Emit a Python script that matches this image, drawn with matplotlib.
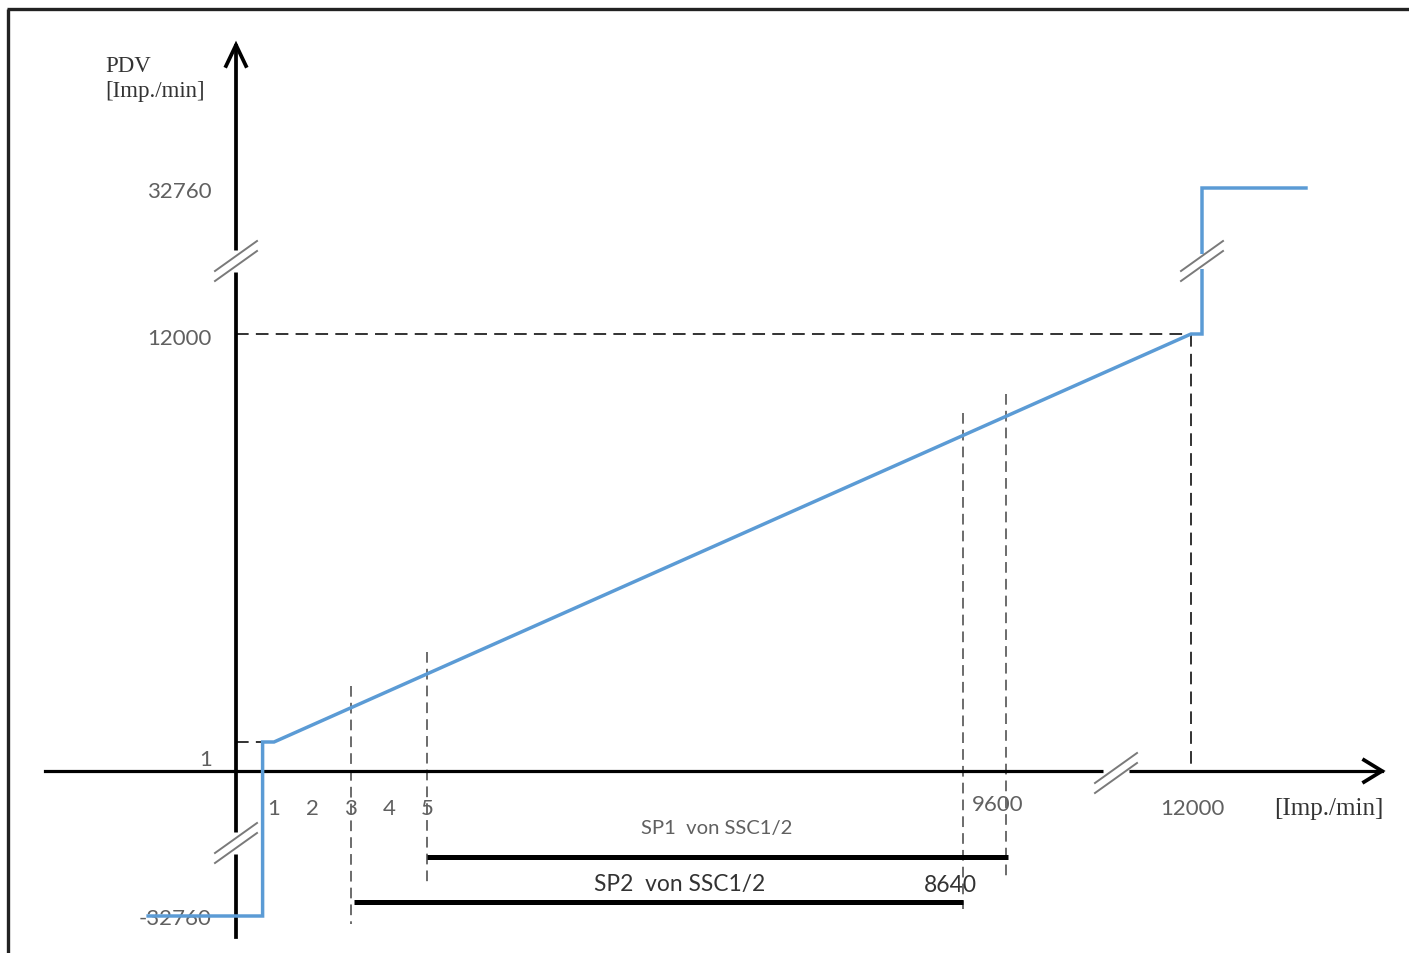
import numpy as np
import matplotlib.pyplot as plt

# ---- schematic data (values in Imp./min) ----
x_ticks = [1, 2, 3, 4, 5]
x_tick_labels = ['1', '2', '3', '4', '5']
y_ticks = [32760, 12000, 1, -32760]
y_tick_labels = ['32760', '12000', '1', '-32760']
x_marks = [9600, 12000]
x_mark_labels = ['9600', '12000']

# PDV characteristic (step below 1, ramp 1..12000, step to 32760 above)
curve_x = [-2.3, 0.7, 0.7, 1, 12000, 12144, 12144, 13505]
curve_y = [-32760, -32760, 1, 1, 12000, 12000, 32760, 32760]

sp1_range = [5, 9600]
sp2_range = [3, 8640]
guide_x = [3, 5, 8640, 9600]

# ---- schematic (broken) axis mapping, value -> pixel ----
X_VALS = [-5, 0, 1, 5, 8640, 9600, 12000, 14500]
X_PIX = [45, 236, 274, 427, 963, 1006, 1191, 1382]
Y_VALS = [-32760, 0, 1, 12000, 32760]
Y_PIX = [917, 772, 743, 335, 189]


def X(v):
    return np.interp(v, X_VALS, X_PIX)


def Y(v):
    return np.interp(v, Y_VALS, Y_PIX)


BLUE = '#5b9bd5'
GRAY = '#606060'
serif = 'Liberation Serif'
sans = 'Lato'

fig = plt.figure(figsize=(14.09, 9.54), dpi=100)
ax = fig.add_axes([0, 0, 1, 1])
ax.set_xlim(0, 1409)
ax.set_ylim(954, 0)
ax.axis('off')

# frame (top and left edges of the scanned box)
ax.plot([7, 1409], [10, 10], color='#222222', lw=2.4, solid_capstyle='butt')
ax.plot([8, 8], [10, 954], color='#222222', lw=2.4, solid_capstyle='butt')

x0, y0 = X(0), Y(0)

# axes
ax.plot([X(-5), X(14500)], [y0, y0], color='black', lw=2.3, zorder=3)
ax.plot([x0, x0], [938, 47], color='black', lw=2.7, zorder=3)
# arrow heads
ax.plot([X(14500) - 18, X(14500), X(14500) - 18], [y0 - 11, y0, y0 + 11],
        color='black', lw=2.7, zorder=3, solid_joinstyle='miter')
ax.plot([x0 - 10, x0, x0 + 10], [67, 46, 67],
        color='black', lw=2.7, zorder=3, solid_joinstyle='miter')


def axis_break(cx, cy, vertical):
    if vertical:
        ax.plot([cx, cx], [cy - 11, cy + 11], color='white', lw=8, zorder=4,
                solid_capstyle='butt')
    else:
        ax.plot([cx - 13, cx + 13], [cy, cy], color='white', lw=8, zorder=4,
                solid_capstyle='butt')
    for off in (-5, 5):
        ax.plot([cx - 21, cx + 21], [cy + 15 + off, cy - 15 + off],
                color='#7a7a7a', lw=1.4, zorder=5)


axis_break(x0, 262, True)
axis_break(x0, 844, True)
axis_break(1116, y0 + 2, False)

# dashed helper lines
dash = dict(color='#222222', lw=1.3, dashes=(7, 4), zorder=2)
ax.plot([x0, X(12000)], [Y(12000), Y(12000)], **dash)
ax.plot([x0, X(0.7)], [Y(1), Y(1)], **dash)
ax.plot([X(12000), X(12000)], [Y(12000), y0], **dash)

ramp_px = [X(1), X(12000)]
ramp_py = [Y(1), Y(12000)]
guide_bottom = [925, 885, 910, 880]
for gx, gb in zip(guide_x, guide_bottom):
    px = X(gx)
    top = np.interp(px, ramp_px, ramp_py) - 22
    ax.plot([px, px], [top, gb], color='#444444', lw=1.1, dashes=(7, 4), zorder=2)

# characteristic curve
cx_pix = X(curve_x)
cy_pix = Y(curve_y)
ax.plot(cx_pix, cy_pix, color=BLUE, lw=2.5, zorder=6, solid_joinstyle='miter')
# break on the vertical jump to 32760
ax.plot([X(12144), X(12144)], [255, 270], color='white', lw=6, zorder=7,
        solid_capstyle='butt')
for off in (-5, 5):
    ax.plot([X(12144) - 21, X(12144) + 21], [262 + 15 + off, 262 - 15 + off],
            color='#7a7a7a', lw=1.4, zorder=8)

# axis titles
ax.text(105, 66, 'PDV', family=serif, fontsize=16.5, color='#333333',
        ha='left', va='center')
ax.text(105, 92, '[Imp./min]', family=serif, fontsize=16.5, color='#333333',
        ha='left', va='center')
ax.text(1329, 809, '[Imp./min]', family=serif, fontsize=18, color='#333333',
        ha='center', va='center')

# y tick labels
y_label_pos = [192, 339, 760, 919]
for lab, yp in zip(y_tick_labels, y_label_pos):
    ax.text(212, yp, lab, family=sans, fontsize=16, color=GRAY,
            ha='right', va='center', zorder=5)

# x tick labels
for v, lab in zip(x_ticks, x_tick_labels):
    ax.text(X(v), 809, lab, family=sans, fontsize=16, color=GRAY,
            ha='center', va='center')
ax.text(X(x_marks[0]) - 8, 805, x_mark_labels[0], family=sans, fontsize=16,
        color=GRAY, ha='center', va='center')
ax.text(X(x_marks[1]) + 1, 809, x_mark_labels[1], family=sans, fontsize=16,
        color=GRAY, ha='center', va='center')

# setpoint ranges
ax.plot([X(sp1_range[0]), X(sp1_range[1]) + 2], [858, 858], color='black',
        lw=3.6, solid_capstyle='butt', zorder=3)
ax.plot([X(sp2_range[0]) + 3, X(sp2_range[1])], [903, 903], color='black',
        lw=3.6, solid_capstyle='butt', zorder=3)
ax.text(717, 829, 'SP1  von SSC1/2', family=sans, fontsize=14.6, color=GRAY,
        ha='center', va='center')
ax.text(680, 885, 'SP2  von SSC1/2', family=sans, fontsize=16.4, color='#333333',
        ha='center', va='center')
ax.text(950, 886, '8640', family=sans, fontsize=16.5, color='#333333',
        ha='center', va='center')

fig.savefig('out.png', dpi=100, facecolor='white')
